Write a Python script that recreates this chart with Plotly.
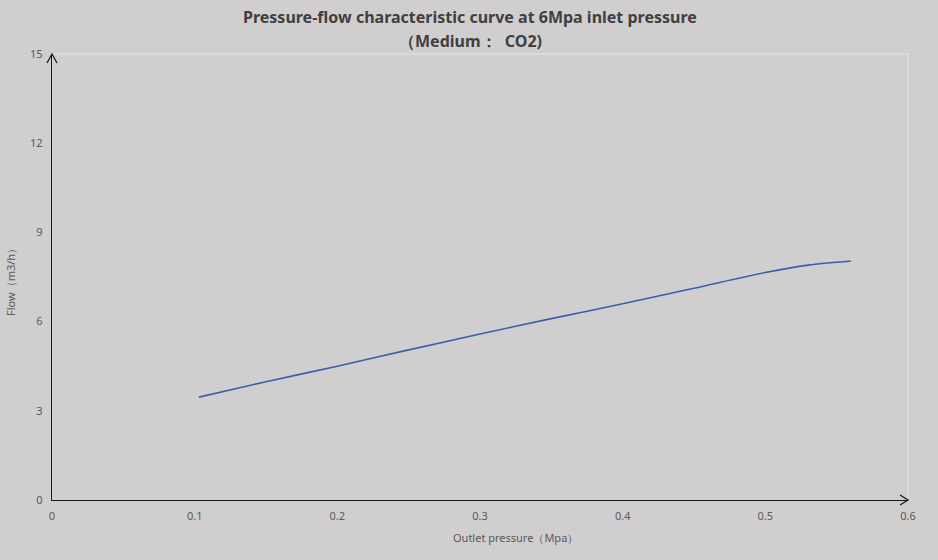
import plotly.graph_objects as go

outlet_pressure = [0.103, 0.15, 0.2, 0.25, 0.3, 0.35, 0.4, 0.45, 0.5, 0.53, 0.56]
flow = [3.46, 3.98, 4.50, 5.05, 5.58, 6.10, 6.60, 7.12, 7.65, 7.90, 8.04]

x_ticks = [0, 0.1, 0.2, 0.3, 0.4, 0.5, 0.6]
y_ticks = [0, 3, 6, 9, 12, 15]

title_lines = ["Pressure-flow characteristic curve at 6Mpa inlet pressure", "（Medium：  CO2)"]

BG = "#d0cece"
FONT = "Noto Sans, Open Sans, sans-serif"

fig = go.Figure()
fig.add_trace(go.Scatter(
    x=outlet_pressure, y=flow, mode="lines",
    line=dict(color="#3a5fad", width=1.6, shape="spline", smoothing=0.8),
    showlegend=False, hoverinfo="x+y"))

fig.update_layout(
    width=938, height=560,
    paper_bgcolor=BG, plot_bgcolor=BG,
    margin=dict(l=52, r=30, t=54, b=60),
    font=dict(family=FONT, color="#595959", size=11),
    xaxis=dict(range=[0, 0.6], tickvals=x_ticks, ticktext=[str(v) for v in x_ticks],
               showgrid=False, zeroline=False, showline=True, linecolor="#1a1a1a", linewidth=1.3,
               ticks="", tickfont=dict(size=11, color="#595959"), ticklabelstandoff=6),
    yaxis=dict(range=[0, 15], tickvals=y_ticks, ticktext=[str(v) for v in y_ticks],
               showgrid=False, zeroline=False, showline=True, linecolor="#1a1a1a", linewidth=1.3,
               ticks="", tickfont=dict(size=11, color="#595959"), ticklabelstandoff=6),
)

# title as two centered lines
for i, (txt, ypix) in enumerate(zip(title_lines, [17, 41])):
    fig.add_annotation(text="<b>" + txt + "</b>", xref="paper", yref="paper",
                       x=(470 - 52) / 856, y=(500 - ypix) / 446,
                       xanchor="center", yanchor="middle", showarrow=False,
                       font=dict(size=16, color="#404040", family=FONT))

# light plot-area border (top and right)
fig.add_shape(type="line", xref="paper", yref="paper", x0=0, x1=1, y0=1, y1=1,
              line=dict(color="#e6e6e6", width=1), layer="below")
fig.add_shape(type="line", xref="paper", yref="paper", x0=1, x1=1, y0=0, y1=1,
              line=dict(color="#e6e6e6", width=1), layer="below")

# arrowheads (open V)
fig.add_shape(type="path", xref="paper", yref="paper", xsizemode="pixel", ysizemode="pixel",
              xanchor=1, yanchor=0, path="M -8,5 L 0,0 L -8,-5",
              line=dict(color="#1a1a1a", width=1.3))
fig.add_shape(type="path", xref="paper", yref="paper", xsizemode="pixel", ysizemode="pixel",
              xanchor=0, yanchor=1, path="M -5,-9 L 0,0 L 5,-9",
              line=dict(color="#1a1a1a", width=1.3))

# axis titles
fig.add_annotation(text="Outlet pressure（Mpa）", xref="paper", yref="paper",
                   x=(515 - 52) / 856, y=-37 / 446, xanchor="center", yanchor="middle",
                   showarrow=False, font=dict(size=11, color="#595959"))
fig.add_annotation(text="Flow（m3/h）", xref="paper", yref="paper",
                   x=-42 / 856, y=(500 - 280) / 446, xanchor="center", yanchor="middle",
                   textangle=-90, showarrow=False, font=dict(size=11, color="#595959"))

fig.write_html("out.html")
